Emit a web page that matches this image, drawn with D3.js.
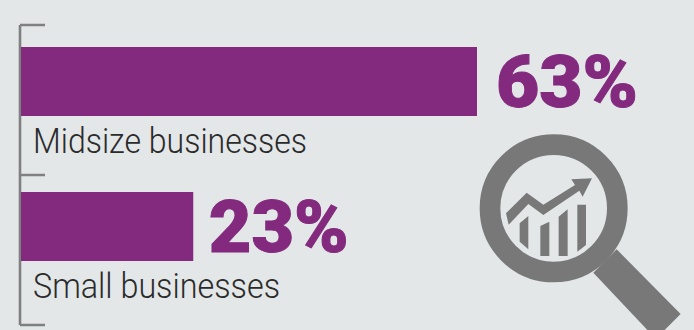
<!DOCTYPE html>
<html>
<head>
<meta charset="utf-8">
<script src="https://cdn.jsdelivr.net/npm/d3@7"></script>
<style>
  html, body { margin: 0; padding: 0; background: #e3e7e8; overflow: hidden; }
</style>
</head>
<body>
<div class="chart"></div>
<script>
const categories = ['Midsize businesses', 'Small businesses']
// bar lengths, the small bar is drawn a bit long in the original
const barValues = [63, 23.8]
const valueLabels = ['63%', '23%']

const svg = d3.select('.chart').append('svg')
  .attr('width', 694)
  .attr('height', 330)
  .style('display', 'block')

const x = d3.scaleLinear()
  .domain([0, 63])
  .range([21, 477])

const y = d3.scaleBand()
  .domain(categories)
  .range([47, 261])
  .paddingInner(76 / 145)

// bracket on the left
const bracketY = d3.scaleLinear().domain([0, 2]).range([25, 325])
svg.append('path')
  .attr('d', d3.range(3).map(i => `M45,${bracketY(i)}H20`).join('') + `M20,${bracketY(0)}V${bracketY(2)}`)
  .attr('fill', 'none')
  .attr('stroke', '#808080')
  .attr('stroke-width', 2.6)

svg.selectAll('rect.bar')
  .data(categories)
  .enter()
  .append('rect')
  .attr('class', 'bar')
  .attr('x', x(0))
  .attr('y', d => y(d))
  .attr('width', (d, i) => x(barValues[i]) - x(0))
  .attr('height', y.bandwidth())
  .attr('fill', '#832a7e')

// the original face is squarer and heavier, so stretch and thicken roboto
svg.selectAll('text.value')
  .data(categories)
  .enter()
  .append('text')
  .attr('class', 'value')
  .text((d, i) => valueLabels[i])
  .attr('x', (d, i) => x(barValues[i]) + [19, 15.5][i])
  .attr('y', d => y(d) + 60)
  .attr('textLength', (d, i) => [142, 140][i])
  .attr('lengthAdjust', 'spacingAndGlyphs')
  .attr('font-family', 'Roboto')
  .attr('font-weight', 900)
  .attr('font-size', '72px')
  .attr('fill', '#832a7e')
  .attr('stroke', '#832a7e')
  .attr('stroke-width', 1)

svg.selectAll('text.name')
  .data(categories)
  .enter()
  .append('text')
  .attr('class', 'name')
  .text(d => d)
  .attr('x', 33)
  .attr('y', d => y(d) + y.bandwidth() + 37)
  .attr('textLength', (d, i) => [274, 247][i])
  .attr('lengthAdjust', 'spacingAndGlyphs')
  .attr('font-family', 'Roboto')
  .attr('font-weight', 300)
  .attr('font-size', '35px')
  .attr('fill', '#2b2b2b')

// magnifying glass, traced at 3x
const icon = svg.append('g')
  .attr('transform', 'translate(460,130) scale(0.3333)')
  .attr('fill', '#787878')

icon.append('circle')
  .attr('cx', 281).attr('cy', 235).attr('r', 191)
  .attr('fill', 'none')
  .attr('stroke', '#787878')
  .attr('stroke-width', 62)

const iconShapes = [
  'M470,358L662,552L610,604L566,604L400,428Z',
  'M138,250L200,188L250,224L345,165L334,148L396,145L368,200L358,182L250,255L205,222L146,284Z',
  'M179,280L205,258V358L179,335Z',
  'M241,288L268,275V378H241Z',
  'M296,260L323,238V378H296Z',
  'M352,224H378V345L352,365Z'
]
icon.selectAll('path')
  .data(iconShapes)
  .enter()
  .append('path')
  .attr('d', d => d)
</script>
</body>
</html>
